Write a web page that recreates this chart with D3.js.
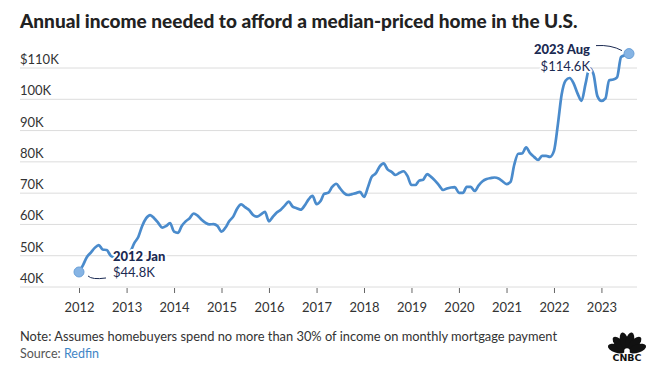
<!DOCTYPE html>
<html>
<head>
<meta charset="utf-8">
<script src="https://cdn.jsdelivr.net/npm/d3@7"></script>
<style>
  html, body { margin: 0; padding: 0; background: #fff; }
  svg { display: block; font-family: Lato, "Open Sans", sans-serif; }
</style>
</head>
<body>
<svg id="chart" width="650" height="367"></svg>
<script>
// ---- DATA ----
const titleText = "Annual income needed to afford a median-priced home in the U.S.";
const noteText = "Note: Assumes homebuyers spend no more than 30% of income on monthly mortgage payment";
const sourceLabel = "Source: ";
const sourceName = "Redfin";
const startYear = 2012;      // first month: 2012 Jan
const startMonth = 0;
// Annual income needed, in $K, monthly, 2012 Jan .. 2023 Aug
const income2012 = [44.8, 47.0, 49.5, 51.0, 52.5, 53.4, 52.0, 51.8, 50.0, 49.5, 49.3, 49.8];
const income2013 = [50.5, 51.5, 54.0, 56.0, 59.5, 62.0, 63.0, 62.0, 60.5, 59.0, 59.5, 60.4];
const income2014 = [57.7, 57.3, 59.5, 61.0, 62.0, 63.5, 62.8, 61.5, 60.5, 60.0, 60.1, 59.5];
const income2015 = [57.7, 59.0, 61.0, 62.5, 65.0, 66.4, 65.5, 64.6, 63.0, 62.5, 63.2, 64.0];
const income2016 = [61.0, 62.5, 63.8, 64.7, 66.0, 67.3, 65.7, 65.2, 64.7, 66.0, 68.0, 69.1];
const income2017 = [66.5, 67.5, 69.8, 70.1, 72.0, 73.0, 71.5, 70.0, 69.4, 69.7, 70.0, 70.4];
const income2018 = [68.8, 72.0, 75.2, 76.3, 78.5, 79.5, 77.6, 76.8, 75.8, 76.5, 77.0, 75.5];
const income2019 = [72.6, 72.6, 74.0, 74.3, 76.1, 75.2, 74.0, 72.5, 71.0, 71.5, 71.8, 71.9];
const income2020 = [70.1, 70.1, 72.0, 72.0, 70.7, 72.5, 73.8, 74.5, 74.8, 75.0, 74.7, 73.8];
const income2021 = [72.9, 73.6, 79.0, 82.6, 82.7, 84.6, 82.8, 81.6, 80.6, 81.9, 81.9, 81.6];
const income2022 = [83.5, 92.3, 101.5, 106.0, 106.8, 105.1, 101.9, 99.5, 105.0, 110.0, 108.0, 101.0];
const income2023 = [99.5, 100.3, 106.1, 106.3, 107.0, 113.5, 114.1, 114.6];
const yTicks = [40, 50, 60, 70, 80, 90, 100, 110];
const xTickYears = [2012, 2013, 2014, 2015, 2016, 2017, 2018, 2019, 2020, 2021, 2022, 2023];
const firstLabel = ["2012 Jan", "$44.8K"];
const lastLabel = ["2023 Aug", "$114.6K"];

const incomeK = [].concat(income2012, income2013, income2014, income2015, income2016,
  income2017, income2018, income2019, income2020, income2021, income2022, income2023);
const data = incomeK.map((v, i) => ({ date: new Date(startYear, startMonth + i, 1), value: v }));

// ---- LAYOUT ----
const svg = d3.select("#chart");
const navy = "#1b2a52";
const lineColor = "#4a8bcc";

const x = d3.scaleTime()
  .domain([data[0].date, data[data.length - 1].date])
  .range([79, 629]);
const y = d3.scaleLinear().domain([40, 110]).range([287, 68]);

function fit(t, w) {
  const len = t.node().getComputedTextLength();
  const fs = +t.attr("font-size");
  t.attr("font-size", (fs * w / len).toFixed(2));
}

// Title
const title = svg.append("text")
  .attr("x", 20).attr("y", 28)
  .attr("font-size", 18).attr("font-weight", 900).attr("fill", "#222")
  .text(titleText);
fit(title, 558);

// Gridlines + y labels
const grid = svg.append("g");
grid.selectAll("line").data(yTicks).join("line")
  .attr("x1", 20).attr("x2", 637)
  .attr("y1", d => y(d)).attr("y2", d => y(d))
  .attr("stroke", "#dcdcdc").attr("stroke-width", 1);
grid.selectAll("text").data(yTicks).join("text")
  .attr("x", 20).attr("y", d => y(d) - 4)
  .attr("font-size", 13).attr("fill", "#333")
  .text((d, i) => (i === yTicks.length - 1 ? "$" : "") + d + "K");

// X axis ticks + labels
const xg = svg.append("g").attr("transform", `translate(0,${y(40)})`);
const xAxis = d3.axisBottom(x)
  .tickValues(xTickYears.map(yr => new Date(yr, 0, 1)))
  .tickFormat(d3.timeFormat("%Y"))
  .tickSize(6).tickPadding(10);
xg.call(xAxis);
xg.select(".domain").remove();
xg.selectAll(".tick line").attr("stroke", "#666").attr("stroke-width", 1).attr("y1", 1);
xg.selectAll(".tick text").attr("font-size", 13).attr("fill", "#333")
  .attr("font-family", "Lato, 'Open Sans', sans-serif");

// Line
const line = d3.line()
  .x(d => x(d.date)).y(d => y(d.value))
  .curve(d3.curveMonotoneX);
svg.append("path").datum(data)
  .attr("d", line)
  .attr("fill", "none").attr("stroke", lineColor)
  .attr("stroke-width", 2.7).attr("stroke-linejoin", "round").attr("stroke-linecap", "round");

// End dots
const first = data[0], last = data[data.length - 1];
svg.selectAll("circle.endpt").data([first, last]).join("circle")
  .attr("class", "endpt")
  .attr("cx", d => x(d.date)).attr("cy", d => y(d.value)).attr("r", 5)
  .attr("fill", "#86b4e4").attr("stroke", "#6aa0d8").attr("stroke-width", 1);

// Annotations
const fx = x(first.date), fy = y(first.value);
const lx = x(last.date), ly = y(last.value);
function halo(sel) {
  sel.attr("stroke", "#fff").attr("stroke-width", 4).attr("stroke-linejoin", "round")
    .attr("paint-order", "stroke");
}
svg.append("text").attr("x", fx + 34).attr("y", fy - 11)
  .attr("font-size", 13).attr("font-weight", 900).attr("fill", navy)
  .text(firstLabel[0]).call(halo);
svg.append("text").attr("x", fx + 34).attr("y", fy + 5)
  .attr("font-size", 13).attr("fill", navy)
  .text(firstLabel[1]).call(halo);
svg.append("path")
  .attr("d", `M${fx + 9},${fy + 4} Q${fx + 13},${fy + 8} ${fx + 27},${fy + 6}`)
  .attr("fill", "none").attr("stroke", navy).attr("stroke-width", 1);

svg.append("text").attr("x", lx - 39).attr("y", ly)
  .attr("text-anchor", "end")
  .attr("font-size", 13).attr("font-weight", 900).attr("fill", navy)
  .text(lastLabel[0]).call(halo);
svg.append("text").attr("x", lx - 39).attr("y", ly + 17)
  .attr("text-anchor", "end")
  .attr("font-size", 13).attr("fill", navy)
  .text(lastLabel[1]).call(halo);
svg.append("path")
  .attr("d", `M${lx - 33},${ly - 8} Q${lx - 18},${ly - 9} ${lx - 7},${ly - 3}`)
  .attr("fill", "none").attr("stroke", navy).attr("stroke-width", 1);

// Footer
const note = svg.append("text").attr("x", 20).attr("y", 341)
  .attr("font-size", 12.5).attr("fill", "#333").text(noteText);
fit(note, 537);
const src = svg.append("text").attr("x", 20).attr("y", 358)
  .attr("font-size", 12.5).attr("fill", "#555");
src.append("tspan").text(sourceLabel);
src.append("tspan").attr("fill", "#3f86c6").text(sourceName);

// CNBC logo (peacock + wordmark)
const logo = svg.append("g").attr("transform", "translate(627,352)");
const featherAngles = [-72, -43, -14, 14, 43, 72];
logo.selectAll("ellipse").data(featherAngles).join("ellipse")
  .attr("cx", 0).attr("cy", -11).attr("rx", 4.2).attr("ry", 9)
  .attr("transform", d => `rotate(${d})`)
  .attr("fill", "#111");
logo.append("circle").attr("cx", 0).attr("cy", -1).attr("r", 2.8).attr("fill", "#fff");
logo.append("text").attr("x", 0).attr("y", 8.5).attr("text-anchor", "middle")
  .attr("font-size", 9).attr("font-weight", 900).attr("fill", "#111")
  .attr("font-family", "'DejaVu Sans', sans-serif")
  .attr("textLength", 29).attr("lengthAdjust", "spacingAndGlyphs")
  .text("CNBC");
</script>
</body>
</html>
